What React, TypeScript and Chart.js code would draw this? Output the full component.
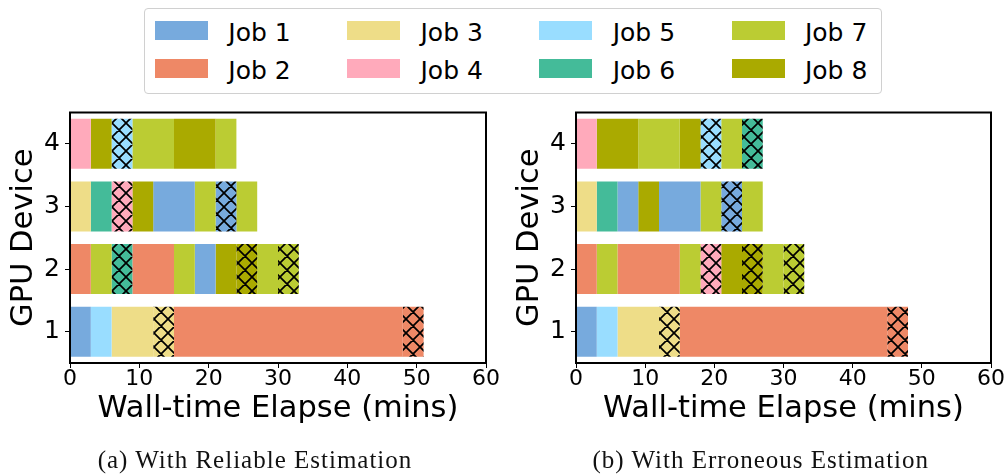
import React, { useEffect, useRef } from 'react';
import { Chart, registerables } from 'chart.js';

Chart.register(...registerables);

// ---------- data ----------
const gpuLabels = ['4', '3', '2', '1'];
const jobNames = ['Job 1', 'Job 2', 'Job 3', 'Job 4', 'Job 5', 'Job 6', 'Job 7', 'Job 8'];
const jobColors = ['#77AADD', '#EE8866', '#EEDD88', '#FFAABB', '#99DDFF', '#44BB99', '#BBCC33', '#AAAA00'];
const xMin = 0;
const xMax = 60;
const xStep = 10;
const xTitle = 'Wall-time Elapse (mins)';
const yTitle = 'GPU Device';
const captionA = '(a) With Reliable Estimation';
const captionB = '(b) With Erroneous Estimation';

// (a) reliable estimation: job per segment, segment edges (mins), hatched flag
const relGpu1Jobs = [1, 5, 3, 3, 2, 2];
const relGpu1Edges = [0, 3, 6, 12, 15, 48, 51];
const relGpu1Hatch = [0, 0, 0, 1, 0, 1];
const relGpu2Jobs = [2, 7, 6, 2, 7, 1, 8, 8, 7, 7];
const relGpu2Edges = [0, 3, 6, 9, 15, 18, 21, 24, 27, 30, 33];
const relGpu2Hatch = [0, 0, 1, 0, 0, 0, 0, 1, 0, 1];
const relGpu3Jobs = [3, 6, 4, 8, 1, 7, 1, 7];
const relGpu3Edges = [0, 3, 6, 9, 12, 18, 21, 24, 27];
const relGpu3Hatch = [0, 0, 1, 0, 0, 0, 1, 0];
const relGpu4Jobs = [4, 8, 5, 7, 8, 7];
const relGpu4Edges = [0, 3, 6, 9, 15, 21, 24];
const relGpu4Hatch = [0, 0, 1, 0, 0, 0];

// (b) erroneous estimation
const errGpu1Jobs = [1, 5, 3, 3, 2, 2];
const errGpu1Edges = [0, 3, 6, 12, 15, 45, 48];
const errGpu1Hatch = [0, 0, 0, 1, 0, 1];
const errGpu2Jobs = [2, 7, 2, 7, 4, 8, 8, 7, 7];
const errGpu2Edges = [0, 3, 6, 15, 18, 21, 24, 27, 30, 33];
const errGpu2Hatch = [0, 0, 0, 0, 1, 0, 1, 0, 1];
const errGpu3Jobs = [3, 6, 1, 8, 1, 7, 1, 7];
const errGpu3Edges = [0, 3, 6, 9, 12, 18, 21, 24, 27];
const errGpu3Hatch = [0, 0, 0, 0, 0, 0, 1, 0];
const errGpu4Jobs = [4, 8, 7, 8, 5, 7, 6];
const errGpu4Edges = [0, 3, 9, 15, 18, 21, 24, 27];
const errGpu4Hatch = [0, 0, 0, 0, 1, 0, 1];

type Row = { gpu: string; jobs: number[]; edges: number[]; hatch: number[] };

const reliableRows: Row[] = [
  { gpu: '1', jobs: relGpu1Jobs, edges: relGpu1Edges, hatch: relGpu1Hatch },
  { gpu: '2', jobs: relGpu2Jobs, edges: relGpu2Edges, hatch: relGpu2Hatch },
  { gpu: '3', jobs: relGpu3Jobs, edges: relGpu3Edges, hatch: relGpu3Hatch },
  { gpu: '4', jobs: relGpu4Jobs, edges: relGpu4Edges, hatch: relGpu4Hatch },
];
const erroneousRows: Row[] = [
  { gpu: '1', jobs: errGpu1Jobs, edges: errGpu1Edges, hatch: errGpu1Hatch },
  { gpu: '2', jobs: errGpu2Jobs, edges: errGpu2Edges, hatch: errGpu2Hatch },
  { gpu: '3', jobs: errGpu3Jobs, edges: errGpu3Edges, hatch: errGpu3Hatch },
  { gpu: '4', jobs: errGpu4Jobs, edges: errGpu4Edges, hatch: errGpu4Hatch },
];

// ---------- helpers ----------
const SANS = '"DejaVu Sans", sans-serif';

function makeHatch(color: string): CanvasPattern | string {
  const size = 14;
  const c = document.createElement('canvas');
  c.width = size;
  c.height = size;
  const g = c.getContext('2d');
  if (!g) return color;
  g.fillStyle = color;
  g.fillRect(0, 0, size, size);
  g.strokeStyle = '#000';
  g.lineWidth = 1.7;
  g.beginPath();
  for (const d of [-size, 0, size]) {
    g.moveTo(d - 2, -2);
    g.lineTo(d + size + 2, size + 2);
    g.moveTo(d + size + 2, -2);
    g.lineTo(d - 2, size + 2);
  }
  g.stroke();
  return g.createPattern(c, 'repeat') || color;
}

function buildDatasets(rows: Row[], patterns: (CanvasPattern | string)[]) {
  const ds: any[] = [];
  rows.forEach((row) => {
    const idx = gpuLabels.indexOf(row.gpu);
    row.jobs.forEach((job, k) => {
      const data = gpuLabels.map((_, i) => (i === idx ? [row.edges[k], row.edges[k + 1]] : null));
      ds.push({
        label: jobNames[job - 1],
        data,
        backgroundColor: row.hatch[k] ? patterns[job - 1] : jobColors[job - 1],
        borderWidth: 0,
        barPercentage: 0.8,
        categoryPercentage: 1,
        grouped: false,
      });
    });
  });
  return ds;
}

const framePlugin = {
  id: 'frame',
  afterDraw(chart: any) {
    const { ctx, chartArea } = chart;
    ctx.save();
    ctx.strokeStyle = '#000';
    ctx.lineWidth = 2;
    ctx.strokeRect(chartArea.left, chartArea.top, chartArea.right - chartArea.left, chartArea.bottom - chartArea.top);
    ctx.restore();
  },
};

function makeConfig(rows: Row[], patterns: (CanvasPattern | string)[], padRight: number): any {
  return {
    type: 'bar',
    data: { labels: gpuLabels, datasets: buildDatasets(rows, patterns) },
    plugins: [framePlugin],
    options: {
      indexAxis: 'y',
      animation: false,
      responsive: false,
      maintainAspectRatio: false,
      layout: { padding: { left: 0, top: 16, right: padRight, bottom: 46.3 } },
      plugins: { legend: { display: false }, tooltip: { enabled: false } },
      scales: {
        x: {
          type: 'linear',
          min: xMin,
          max: xMax,
          ticks: {
            stepSize: xStep,
            color: '#000',
            padding: 0,
            maxRotation: 0,
            font: { family: SANS, size: 22, lineHeight: 1 },
          },
          grid: { drawOnChartArea: false, drawTicks: true, tickLength: 5, color: '#000', lineWidth: 1 },
          border: { display: false },
          title: {
            display: true,
            text: xTitle,
            color: '#000',
            font: { family: SANS, size: 30.5, lineHeight: 1.2 },
            padding: { top: 0, bottom: 0 },
          },
          afterFit: (s: any) => {
            s.height = 64.7;
          },
        },
        y: {
          type: 'category',
          offset: true,
          ticks: { color: '#000', padding: 5, font: { family: SANS, size: 25, lineHeight: 1 } },
          grid: { offset: false, drawOnChartArea: false, drawTicks: true, tickLength: 5, color: '#000', lineWidth: 1 },
          border: { display: false },
          title: {
            display: true,
            text: yTitle,
            color: '#000',
            font: { family: SANS, size: 30.5, lineHeight: 1.2 },
            padding: { top: 6, bottom: 0 },
          },
          afterFit: (s: any) => {
            s.width = 70;
          },
        },
      },
    },
  };
}

// ---------- component ----------
export default function App() {
  const leftRef = useRef<HTMLCanvasElement>(null);
  const rightRef = useRef<HTMLCanvasElement>(null);

  useEffect(() => {
    const patterns = jobColors.map((c) => makeHatch(c));
    const charts: Chart[] = [];
    if (leftRef.current) charts.push(new Chart(leftRef.current, makeConfig(reliableRows, patterns, 14)));
    if (rightRef.current) charts.push(new Chart(rightRef.current, makeConfig(erroneousRows, patterns, 16)));
    return () => charts.forEach((c) => c.destroy());
  }, []);

  const colStep = 192.2;
  const legendItems = jobNames.map((name, i) => {
    const col = Math.floor(i / 2);
    const row = i % 2;
    const px = 155 + col * colStep;
    const patchTop = row === 0 ? 20.7 : 59.3;
    const textTop = row === 0 ? 19.5 : 58.2;
    return (
      <React.Fragment key={name}>
        <div
          style={{
            position: 'absolute',
            left: px,
            top: patchTop,
            width: 53,
            height: 19,
            background: jobColors[i],
          }}
        />
        <div
          style={{
            position: 'absolute',
            left: px + 73.3,
            top: textTop,
            fontFamily: SANS,
            fontSize: 25,
            lineHeight: '25px',
            color: '#000',
            whiteSpace: 'nowrap',
          }}
        >
          {name}
        </div>
      </React.Fragment>
    );
  });

  const captionStyle = (center: number): React.CSSProperties => ({
    position: 'absolute',
    left: center - 250,
    width: 500,
    top: 447.4,
    textAlign: 'center',
    fontFamily: '"Liberation Serif", serif',
    fontSize: 25,
    lineHeight: '25px',
    letterSpacing: '1px',
    color: '#111',
    whiteSpace: 'nowrap',
  });

  return (
    <div
      style={{
        position: 'fixed',
        left: 0,
        top: 0,
        width: 1007,
        height: 474,
        background: '#fff',
        overflow: 'hidden',
      }}
    >
      <div
        style={{
          position: 'absolute',
          left: 144,
          top: 8,
          width: 738,
          height: 86,
          boxSizing: 'border-box',
          border: '1px solid #d0d0d0',
          borderRadius: 4,
        }}
      />
      {legendItems}
      <canvas
        ref={leftRef}
        width={500}
        height={379}
        style={{ position: 'absolute', left: 0, top: 95, width: 500, height: 379 }}
      />
      <canvas
        ref={rightRef}
        width={501}
        height={379}
        style={{ position: 'absolute', left: 506, top: 95, width: 501, height: 379 }}
      />
      <div style={captionStyle(255)}>{captionA}</div>
      <div style={captionStyle(760.8)}>{captionB}</div>
    </div>
  );
}
